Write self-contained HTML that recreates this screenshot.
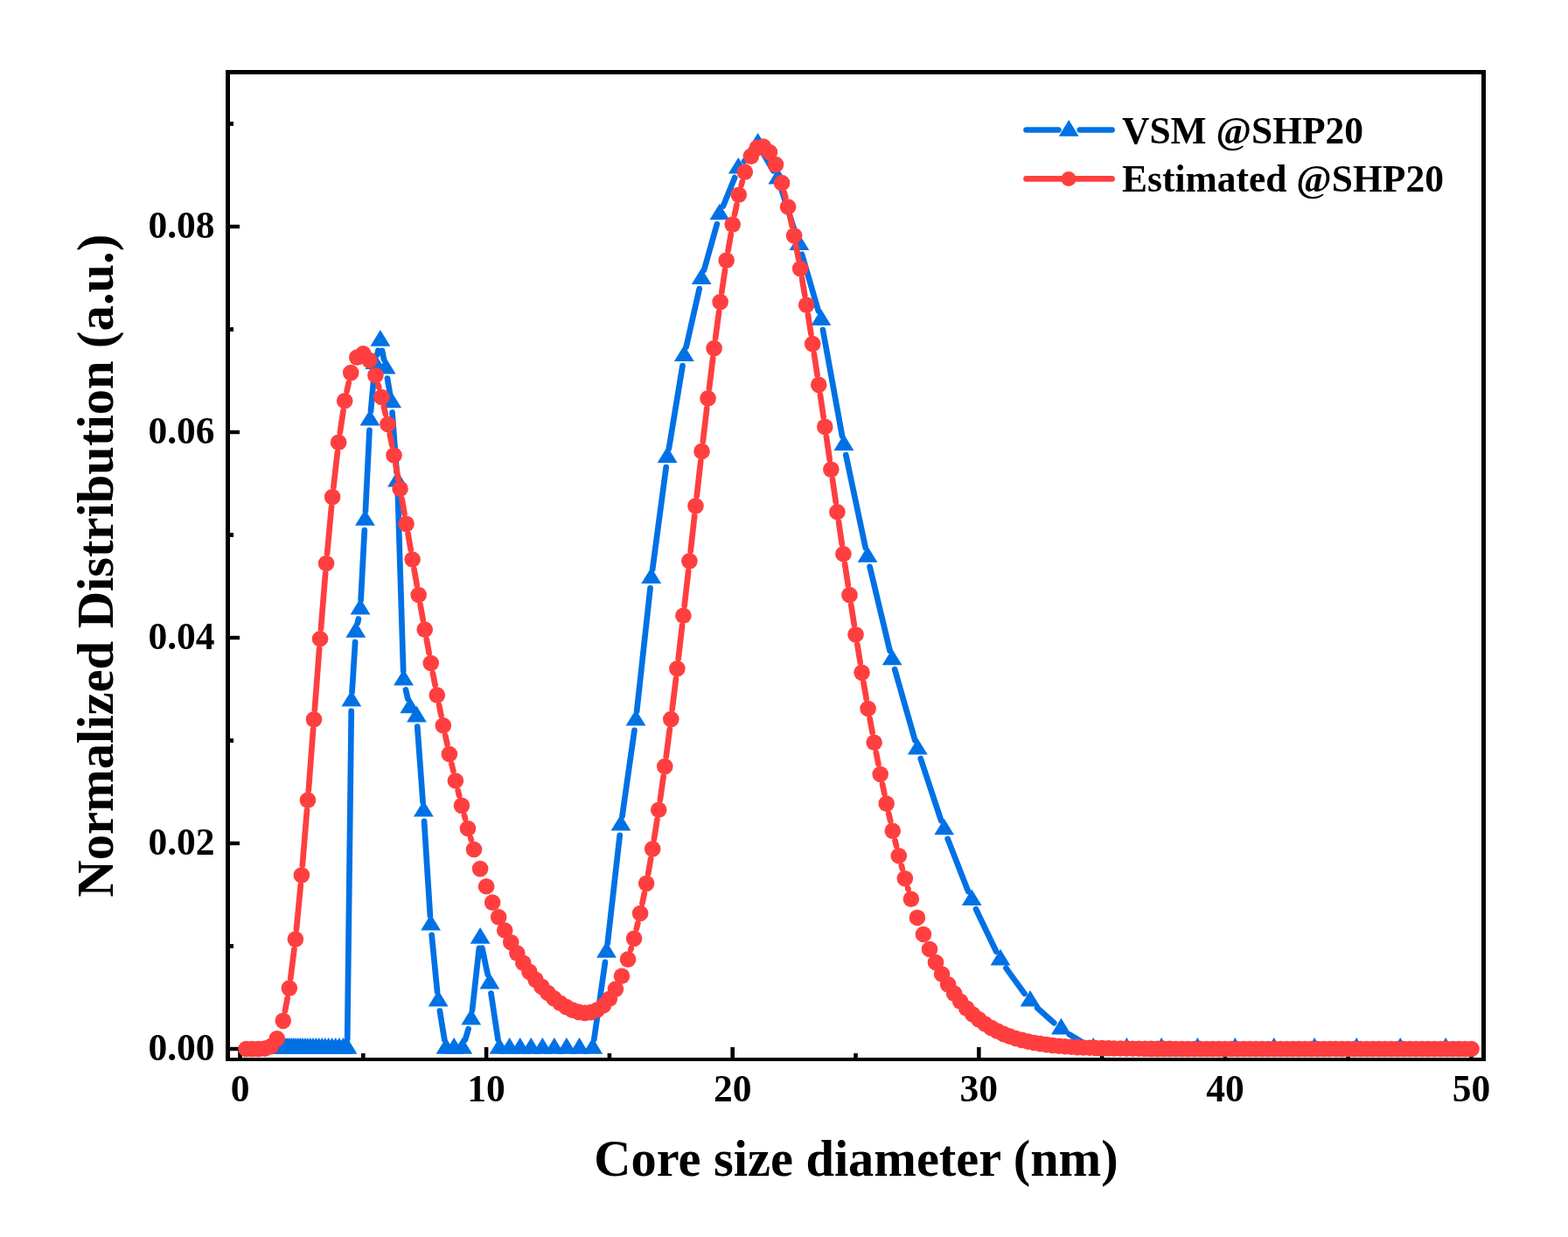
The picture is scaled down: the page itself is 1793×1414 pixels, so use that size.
<!DOCTYPE html><html><head><meta charset="utf-8"><title>Core size distribution</title><style>html,body{margin:0;padding:0;background:#fff;width:1793px;height:1414px;overflow:hidden}svg{display:block}text{font-family:"Liberation Serif","Times New Roman",serif;font-weight:bold;fill:#000}</style></head><body>
<svg width="1793" height="1414" viewBox="0 0 1793 1414">
<rect width="1793" height="1414" fill="#fff"/>
<g fill="#000"><rect x="272.2" y="1197" width="4.6" height="12"/><rect x="553.8" y="1197" width="4.6" height="12"/><rect x="835.4" y="1197" width="4.6" height="12"/><rect x="1117" y="1197" width="4.6" height="12"/><rect x="1398.6" y="1197" width="4.6" height="12"/><rect x="1680.2" y="1197" width="4.6" height="12"/><rect x="413" y="1204" width="4.6" height="5"/><rect x="694.6" y="1204" width="4.6" height="5"/><rect x="976.2" y="1204" width="4.6" height="5"/><rect x="1257.8" y="1204" width="4.6" height="5"/><rect x="1539.4" y="1204" width="4.6" height="5"/><rect x="262" y="1196.8" width="12" height="4.4"/><rect x="262" y="961.8" width="12" height="4.4"/><rect x="262" y="726.8" width="12" height="4.4"/><rect x="262" y="491.8" width="12" height="4.4"/><rect x="262" y="256.8" width="12" height="4.4"/><rect x="262" y="1079.1" width="5" height="4.8"/><rect x="262" y="844.1" width="5" height="4.8"/><rect x="262" y="609.1" width="5" height="4.8"/><rect x="262" y="374.1" width="5" height="4.8"/><rect x="262" y="139.1" width="5" height="4.8"/></g>
<path d="M397.19 1188L401.73 812.9 M402.55 790.92L406.15 733.98 M408.97 712.21L409.9 707.49 M412.61 685.72L416.83 606.08 M417.95 584.11L422.48 491.79 M424 469.84L427.84 427.26 M431.29 405.58L432.41 400.72 M437.01 400.79L439.02 410.91 M442.98 432.55L445.86 449.65 M448.51 471.47L453.64 539.93 M454.81 561.89L461.17 766.71 M463.98 788.42L466.38 798.88 M477.25 830.67L483.56 916.83 M485.05 938.78L491.88 1046.82 M493.65 1068.75L500.04 1133.75 M502.89 1155.56L508.22 1188.14 M531.95 1188.46L535.61 1176.24 M539.98 1154.77L547.89 1083.93 M551.35 1083.77L557.63 1113.93 M561.5 1135.58L569.41 1188.12 M679.3 1188.11L691.97 1099.89 M694.77 1078.07L708.71 954.83 M711.49 933.01L725.45 834.79 M728.19 812.96L743.53 672.34 M746.17 650.5L761.69 534.1 M764.93 512.35L780.48 418.15 M784.7 396.57L799.74 330.03 M805.13 308.71L819.86 256.19 M826.98 235.41L840.15 203.09 M851.16 184.3L859.76 173.5 M872.15 174.41L884.28 195.29 M893.16 215.28L910.56 269.72 M916.98 290.76L935.88 355.64 M940.92 377.02L963.01 498.38 M967.25 519.96L989.74 626.34 M994.58 647.8L1017.56 743.9 M1023.14 765.18L1046.3 846.22 M1052.77 867.24L1076.21 938.16 M1083.67 958.85L1107.2 1019.15 M1115.96 1039.32L1139.21 1087.78 M1150.41 1106.61L1171.58 1135.89 M1186.19 1152.17L1205.24 1169.33 M1222.81 1182.4L1240.78 1193.3 M1261.18 1199L1277.39 1199 M1299.39 1199L1317.1 1199 M1339.1 1199L1358.37 1199 M1380.37 1199L1401.25 1199 M1423.25 1199L1445.81 1199 M1467.81 1199L1492.11 1199 M1514.11 1199L1540.23 1199 M1562.23 1199L1590.23 1199 M1612.23 1199L1642.2 1199" stroke="#0071E5" stroke-width="6.7" stroke-linecap="round" fill="none"/>
<g fill="#0071E5">
<polygon points="310.35,1186.1 298.95,1204.7 321.75,1204.7"/>
<polygon points="311.75,1186.1 300.35,1204.7 323.15,1204.7"/>
<polygon points="313.21,1186.1 301.81,1204.7 324.61,1204.7"/>
<polygon points="314.72,1186.1 303.32,1204.7 326.12,1204.7"/>
<polygon points="316.3,1186.1 304.9,1204.7 327.7,1204.7"/>
<polygon points="317.94,1186.1 306.54,1204.7 329.34,1204.7"/>
<polygon points="319.64,1186.1 308.24,1204.7 331.04,1204.7"/>
<polygon points="321.41,1186.1 310.01,1204.7 332.81,1204.7"/>
<polygon points="323.24,1186.1 311.84,1204.7 334.64,1204.7"/>
<polygon points="325.15,1186.1 313.75,1204.7 336.55,1204.7"/>
<polygon points="327.14,1186.1 315.74,1204.7 338.54,1204.7"/>
<polygon points="329.2,1186.1 317.8,1204.7 340.6,1204.7"/>
<polygon points="331.34,1186.1 319.94,1204.7 342.74,1204.7"/>
<polygon points="333.57,1186.1 322.17,1204.7 344.97,1204.7"/>
<polygon points="335.88,1186.1 324.48,1204.7 347.28,1204.7"/>
<polygon points="338.28,1186.1 326.88,1204.7 349.68,1204.7"/>
<polygon points="340.78,1186.1 329.38,1204.7 352.18,1204.7"/>
<polygon points="343.38,1186.1 331.98,1204.7 354.78,1204.7"/>
<polygon points="346.08,1186.1 334.68,1204.7 357.48,1204.7"/>
<polygon points="348.88,1186.1 337.48,1204.7 360.28,1204.7"/>
<polygon points="351.79,1186.1 340.39,1204.7 363.19,1204.7"/>
<polygon points="354.82,1186.1 343.42,1204.7 366.22,1204.7"/>
<polygon points="357.96,1186.1 346.56,1204.7 369.36,1204.7"/>
<polygon points="361.23,1186.1 349.83,1204.7 372.63,1204.7"/>
<polygon points="364.63,1186.1 353.23,1204.7 376.03,1204.7"/>
<polygon points="368.16,1186.1 356.76,1204.7 379.56,1204.7"/>
<polygon points="371.83,1186.1 360.43,1204.7 383.23,1204.7"/>
<polygon points="375.64,1186.1 364.24,1204.7 387.04,1204.7"/>
<polygon points="379.6,1186.1 368.2,1204.7 391,1204.7"/>
<polygon points="383.72,1186.1 372.32,1204.7 395.12,1204.7"/>
<polygon points="387.99,1186.1 376.59,1204.7 399.39,1204.7"/>
<polygon points="392.44,1186.1 381.04,1204.7 403.84,1204.7"/>
<polygon points="397.06,1186.1 385.66,1204.7 408.46,1204.7"/>
<polygon points="401.86,789 390.46,807.6 413.26,807.6"/>
<polygon points="406.85,710.1 395.45,728.7 418.25,728.7"/>
<polygon points="412.03,683.8 400.63,702.4 423.43,702.4"/>
<polygon points="417.42,582.2 406.02,600.8 428.82,600.8"/>
<polygon points="423.01,467.9 411.61,486.5 434.41,486.5"/>
<polygon points="428.83,403.4 417.43,422 440.23,422"/>
<polygon points="434.88,377.1 423.48,395.7 446.28,395.7"/>
<polygon points="441.16,408.8 429.76,427.4 452.56,427.4"/>
<polygon points="447.68,447.6 436.28,466.2 459.08,466.2"/>
<polygon points="454.47,538 443.07,556.6 465.87,556.6"/>
<polygon points="461.51,764.8 450.11,783.4 472.91,783.4"/>
<polygon points="468.84,796.7 457.44,815.3 480.24,815.3"/>
<polygon points="476.45,806.8 465.05,825.4 487.85,825.4"/>
<polygon points="484.36,914.9 472.96,933.5 495.76,933.5"/>
<polygon points="492.58,1044.9 481.18,1063.5 503.98,1063.5"/>
<polygon points="501.12,1131.8 489.72,1150.4 512.52,1150.4"/>
<polygon points="510,1186.1 498.6,1204.7 521.4,1204.7"/>
<polygon points="519.22,1186.1 507.82,1204.7 530.62,1204.7"/>
<polygon points="528.8,1186.1 517.4,1204.7 540.2,1204.7"/>
<polygon points="538.76,1152.8 527.36,1171.4 550.16,1171.4"/>
<polygon points="549.11,1060.1 537.71,1078.7 560.51,1078.7"/>
<polygon points="559.87,1111.8 548.47,1130.4 571.27,1130.4"/>
<polygon points="571.04,1186.1 559.64,1204.7 582.44,1204.7"/>
<polygon points="582.66,1186.1 571.26,1204.7 594.06,1204.7"/>
<polygon points="594.73,1186.1 583.33,1204.7 606.13,1204.7"/>
<polygon points="607.27,1186.1 595.87,1204.7 618.67,1204.7"/>
<polygon points="620.3,1186.1 608.9,1204.7 631.7,1204.7"/>
<polygon points="633.84,1186.1 622.44,1204.7 645.24,1204.7"/>
<polygon points="647.92,1186.1 636.52,1204.7 659.32,1204.7"/>
<polygon points="662.54,1186.1 651.14,1204.7 673.94,1204.7"/>
<polygon points="677.74,1186.1 666.34,1204.7 689.14,1204.7"/>
<polygon points="693.53,1076.1 682.13,1094.7 704.93,1094.7"/>
<polygon points="709.95,931 698.55,949.6 721.35,949.6"/>
<polygon points="727,811 715.6,829.6 738.4,829.6"/>
<polygon points="744.72,648.5 733.32,667.1 756.12,667.1"/>
<polygon points="763.14,510.3 751.74,528.9 774.54,528.9"/>
<polygon points="782.28,394.4 770.88,413 793.68,413"/>
<polygon points="802.16,306.4 790.76,325 813.56,325"/>
<polygon points="822.83,232.7 811.43,251.3 834.23,251.3"/>
<polygon points="844.3,180 832.9,198.6 855.7,198.6"/>
<polygon points="866.62,152 855.22,170.6 878.02,170.6"/>
<polygon points="889.81,191.9 878.41,210.5 901.21,210.5"/>
<polygon points="913.91,267.3 902.51,285.9 925.31,285.9"/>
<polygon points="938.95,353.3 927.55,371.9 950.35,371.9"/>
<polygon points="964.97,496.3 953.57,514.9 976.37,514.9"/>
<polygon points="992.02,624.2 980.62,642.8 1003.42,642.8"/>
<polygon points="1020.12,741.7 1008.72,760.3 1031.52,760.3"/>
<polygon points="1049.32,843.9 1037.92,862.5 1060.72,862.5"/>
<polygon points="1079.67,935.7 1068.27,954.3 1091.07,954.3"/>
<polygon points="1111.2,1016.5 1099.8,1035.1 1122.6,1035.1"/>
<polygon points="1143.97,1084.8 1132.57,1103.4 1155.37,1103.4"/>
<polygon points="1178.02,1131.9 1166.62,1150.5 1189.42,1150.5"/>
<polygon points="1213.41,1163.8 1202.01,1182.4 1224.81,1182.4"/>
<polygon points="1250.18,1186.1 1238.78,1204.7 1261.58,1204.7"/>
<polygon points="1288.39,1186.1 1276.99,1204.7 1299.79,1204.7"/>
<polygon points="1328.1,1186.1 1316.7,1204.7 1339.5,1204.7"/>
<polygon points="1369.37,1186.1 1357.97,1204.7 1380.77,1204.7"/>
<polygon points="1412.25,1186.1 1400.85,1204.7 1423.65,1204.7"/>
<polygon points="1456.81,1186.1 1445.41,1204.7 1468.21,1204.7"/>
<polygon points="1503.11,1186.1 1491.71,1204.7 1514.51,1204.7"/>
<polygon points="1551.23,1186.1 1539.83,1204.7 1562.63,1204.7"/>
<polygon points="1601.23,1186.1 1589.83,1204.7 1612.63,1204.7"/>
<polygon points="1653.2,1186.1 1641.8,1204.7 1664.6,1204.7"/>
</g>
<path d="M325.91 1155.54L328.69 1140.87 M332.25 1118.16L336.43 1085 M338.96 1062.14L343.8 1011.88 M345.84 988.98L351 926.11 M352.82 903.18L358.1 833.87 M359.86 810.93L365.14 741.7 M366.96 718.77L372.12 655.42 M374.12 632.51L379.04 579.56 M381.39 556.68L385.85 517.12 M388.83 494.32L392.49 469.63 M396.64 447.02L398.76 437.32 M432.49 440.02L433.31 442.9 M438.96 465.18L440.92 473.8 M445.7 496.3L448.26 509.17 M452.58 531.76L455.46 547.48 M459.53 570.12L462.59 587.5 M466.54 610.16L469.66 628.17 M473.59 650.83L476.69 668.67 M480.67 691.32L483.69 708.34 M487.78 730.97L490.66 746.69 M494.91 769.29L497.61 783.36 M502.07 805.92L504.53 818.1 M509.24 840.62L511.44 850.77 M516.45 873.22L518.31 881.29 M523.68 903.66L525.16 909.65 M530.93 931.91L531.99 935.86 M538.21 958L538.79 960 M721.28 1085.6L721.8 1083.84 M727.79 1061.64L729.37 1055.14 M734.42 1032.7L736.82 1021.12 M741.16 998.54L744.16 981.73 M747.97 959.05L751.43 937.1 M754.84 914.35L758.64 887.52 M761.75 864.73L765.81 833.5 M768.69 810.69L772.95 775.75 M775.67 752.91L780.05 715.16 M782.67 692.31L787.13 652.76 M789.7 629.9L794.18 589.73 M796.75 566.88L801.21 527.32 M803.83 504.47L808.21 466.82 M810.94 443.98L815.18 409.48 M818.1 386.67L822.1 356.51 M825.31 333.74L828.97 309 M832.6 286.29L835.76 267.9 M840.04 245.31L842.4 233.96 M847.73 211.59L848.79 207.7 M896.88 220.26L898.2 225.38 M903.46 247.76L905.7 258.21 M910.21 280.76L913.03 295.81 M917.06 318.45L920.26 337.29 M923.98 359.99L927.42 381.8 M930.93 404.53L934.55 428.47 M937.93 451.22L941.63 476.53 M944.95 499.29L948.69 525.22 M951.99 547.98L955.73 573.87 M959.05 596.63L962.75 621.89 M966.13 644.64L969.75 668.77 M973.23 691.5L976.73 714.07 M980.34 736.78L983.7 757.44 M987.48 780.13L990.64 798.63 M994.63 821.28L997.57 837.43 M1001.81 860.03L1004.47 873.72 M1009.01 896.26L1011.35 907.42 M1016.24 929.89L1018.2 938.52 M1023.5 960.9L1025.02 967.05 M1030.79 989.32L1031.81 993.08 M1038.12 1015.2L1038.56 1016.7" stroke="#FF3F3F" stroke-width="6.7" stroke-linecap="round" fill="none"/>
<g fill="#FF3F3F">
<circle cx="281.54" cy="1199" r="9.3"/>
<circle cx="288.58" cy="1199" r="9.3"/>
<circle cx="295.62" cy="1198.98" r="9.3"/>
<circle cx="302.66" cy="1198.59" r="9.3"/>
<circle cx="309.7" cy="1196.1" r="9.3"/>
<circle cx="316.74" cy="1187.4" r="9.3"/>
<circle cx="323.78" cy="1166.84" r="9.3"/>
<circle cx="330.82" cy="1129.57" r="9.3"/>
<circle cx="337.86" cy="1073.59" r="9.3"/>
<circle cx="344.9" cy="1000.44" r="9.3"/>
<circle cx="351.94" cy="914.64" r="9.3"/>
<circle cx="358.98" cy="822.4" r="9.3"/>
<circle cx="366.02" cy="730.23" r="9.3"/>
<circle cx="373.06" cy="643.96" r="9.3"/>
<circle cx="380.1" cy="568.11" r="9.3"/>
<circle cx="387.14" cy="505.69" r="9.3"/>
<circle cx="394.18" cy="458.25" r="9.3"/>
<circle cx="401.22" cy="426.09" r="9.3"/>
<circle cx="408.26" cy="408.55" r="9.3"/>
<circle cx="415.3" cy="404.35" r="9.3"/>
<circle cx="422.34" cy="411.77" r="9.3"/>
<circle cx="429.38" cy="428.95" r="9.3"/>
<circle cx="436.42" cy="453.97" r="9.3"/>
<circle cx="443.46" cy="485.02" r="9.3"/>
<circle cx="450.5" cy="520.44" r="9.3"/>
<circle cx="457.54" cy="558.79" r="9.3"/>
<circle cx="464.58" cy="598.82" r="9.3"/>
<circle cx="471.62" cy="639.5" r="9.3"/>
<circle cx="478.66" cy="680" r="9.3"/>
<circle cx="485.7" cy="719.66" r="9.3"/>
<circle cx="492.74" cy="758" r="9.3"/>
<circle cx="499.78" cy="794.65" r="9.3"/>
<circle cx="506.82" cy="829.37" r="9.3"/>
<circle cx="513.86" cy="862.02" r="9.3"/>
<circle cx="520.9" cy="892.5" r="9.3"/>
<circle cx="527.94" cy="920.81" r="9.3"/>
<circle cx="534.98" cy="946.96" r="9.3"/>
<circle cx="542.02" cy="971.04" r="9.3"/>
<circle cx="549.06" cy="993.1" r="9.3"/>
<circle cx="556.1" cy="1013.27" r="9.3"/>
<circle cx="563.14" cy="1031.64" r="9.3"/>
<circle cx="570.18" cy="1048.35" r="9.3"/>
<circle cx="577.22" cy="1063.49" r="9.3"/>
<circle cx="584.26" cy="1077.2" r="9.3"/>
<circle cx="591.3" cy="1089.59" r="9.3"/>
<circle cx="598.34" cy="1100.76" r="9.3"/>
<circle cx="605.38" cy="1110.81" r="9.3"/>
<circle cx="612.42" cy="1119.83" r="9.3"/>
<circle cx="619.46" cy="1127.89" r="9.3"/>
<circle cx="626.5" cy="1135.04" r="9.3"/>
<circle cx="633.54" cy="1141.3" r="9.3"/>
<circle cx="640.58" cy="1146.69" r="9.3"/>
<circle cx="647.62" cy="1151.15" r="9.3"/>
<circle cx="654.66" cy="1154.6" r="9.3"/>
<circle cx="661.7" cy="1156.89" r="9.3"/>
<circle cx="668.74" cy="1157.83" r="9.3"/>
<circle cx="675.78" cy="1157.15" r="9.3"/>
<circle cx="682.82" cy="1154.51" r="9.3"/>
<circle cx="689.86" cy="1149.51" r="9.3"/>
<circle cx="696.9" cy="1141.71" r="9.3"/>
<circle cx="703.94" cy="1130.62" r="9.3"/>
<circle cx="710.98" cy="1115.76" r="9.3"/>
<circle cx="718.02" cy="1096.63" r="9.3"/>
<circle cx="725.06" cy="1072.82" r="9.3"/>
<circle cx="732.1" cy="1043.97" r="9.3"/>
<circle cx="739.14" cy="1009.86" r="9.3"/>
<circle cx="746.18" cy="970.41" r="9.3"/>
<circle cx="753.22" cy="925.74" r="9.3"/>
<circle cx="760.26" cy="876.14" r="9.3"/>
<circle cx="767.3" cy="822.1" r="9.3"/>
<circle cx="774.34" cy="764.34" r="9.3"/>
<circle cx="781.38" cy="703.73" r="9.3"/>
<circle cx="788.42" cy="641.33" r="9.3"/>
<circle cx="795.46" cy="578.3" r="9.3"/>
<circle cx="802.5" cy="515.9" r="9.3"/>
<circle cx="809.54" cy="455.4" r="9.3"/>
<circle cx="816.58" cy="398.07" r="9.3"/>
<circle cx="823.62" cy="345.11" r="9.3"/>
<circle cx="830.66" cy="297.63" r="9.3"/>
<circle cx="837.7" cy="256.57" r="9.3"/>
<circle cx="844.74" cy="222.7" r="9.3"/>
<circle cx="851.78" cy="196.59" r="9.3"/>
<circle cx="858.82" cy="178.62" r="9.3"/>
<circle cx="865.86" cy="168.93" r="9.3"/>
<circle cx="872.9" cy="167.46" r="9.3"/>
<circle cx="879.94" cy="173.98" r="9.3"/>
<circle cx="886.98" cy="188.05" r="9.3"/>
<circle cx="894.02" cy="209.13" r="9.3"/>
<circle cx="901.06" cy="236.52" r="9.3"/>
<circle cx="908.1" cy="269.45" r="9.3"/>
<circle cx="915.14" cy="307.11" r="9.3"/>
<circle cx="922.18" cy="348.63" r="9.3"/>
<circle cx="929.22" cy="393.15" r="9.3"/>
<circle cx="936.26" cy="439.85" r="9.3"/>
<circle cx="943.3" cy="487.91" r="9.3"/>
<circle cx="950.34" cy="536.6" r="9.3"/>
<circle cx="957.38" cy="585.25" r="9.3"/>
<circle cx="964.42" cy="633.27" r="9.3"/>
<circle cx="971.46" cy="680.14" r="9.3"/>
<circle cx="978.5" cy="725.43" r="9.3"/>
<circle cx="985.54" cy="768.8" r="9.3"/>
<circle cx="992.58" cy="809.97" r="9.3"/>
<circle cx="999.62" cy="848.75" r="9.3"/>
<circle cx="1006.66" cy="885" r="9.3"/>
<circle cx="1013.7" cy="918.67" r="9.3"/>
<circle cx="1020.74" cy="949.74" r="9.3"/>
<circle cx="1027.78" cy="978.22" r="9.3"/>
<circle cx="1034.82" cy="1004.18" r="9.3"/>
<circle cx="1041.86" cy="1027.72" r="9.3"/>
<circle cx="1048.9" cy="1048.94" r="9.3"/>
<circle cx="1055.94" cy="1067.99" r="9.3"/>
<circle cx="1062.98" cy="1085" r="9.3"/>
<circle cx="1070.02" cy="1100.13" r="9.3"/>
<circle cx="1077.06" cy="1113.51" r="9.3"/>
<circle cx="1084.1" cy="1125.31" r="9.3"/>
<circle cx="1091.14" cy="1135.67" r="9.3"/>
<circle cx="1098.18" cy="1144.72" r="9.3"/>
<circle cx="1105.22" cy="1152.61" r="9.3"/>
<circle cx="1112.26" cy="1159.47" r="9.3"/>
<circle cx="1119.3" cy="1165.39" r="9.3"/>
<circle cx="1126.34" cy="1170.5" r="9.3"/>
<circle cx="1133.38" cy="1174.9" r="9.3"/>
<circle cx="1140.42" cy="1178.66" r="9.3"/>
<circle cx="1147.46" cy="1181.88" r="9.3"/>
<circle cx="1154.5" cy="1184.62" r="9.3"/>
<circle cx="1161.54" cy="1186.95" r="9.3"/>
<circle cx="1168.58" cy="1188.92" r="9.3"/>
<circle cx="1175.62" cy="1190.58" r="9.3"/>
<circle cx="1182.66" cy="1191.99" r="9.3"/>
<circle cx="1189.7" cy="1193.17" r="9.3"/>
<circle cx="1196.74" cy="1194.16" r="9.3"/>
<circle cx="1203.78" cy="1194.99" r="9.3"/>
<circle cx="1210.82" cy="1195.69" r="9.3"/>
<circle cx="1217.86" cy="1196.26" r="9.3"/>
<circle cx="1224.9" cy="1196.75" r="9.3"/>
<circle cx="1231.94" cy="1197.14" r="9.3"/>
<circle cx="1238.98" cy="1197.48" r="9.3"/>
<circle cx="1246.02" cy="1197.75" r="9.3"/>
<circle cx="1253.06" cy="1197.98" r="9.3"/>
<circle cx="1260.1" cy="1198.16" r="9.3"/>
<circle cx="1267.14" cy="1198.31" r="9.3"/>
<circle cx="1274.18" cy="1198.44" r="9.3"/>
<circle cx="1281.22" cy="1198.54" r="9.3"/>
<circle cx="1288.26" cy="1198.63" r="9.3"/>
<circle cx="1295.3" cy="1198.7" r="9.3"/>
<circle cx="1302.34" cy="1198.75" r="9.3"/>
<circle cx="1309.38" cy="1198.8" r="9.3"/>
<circle cx="1316.42" cy="1198.84" r="9.3"/>
<circle cx="1323.46" cy="1198.87" r="9.3"/>
<circle cx="1330.5" cy="1198.89" r="9.3"/>
<circle cx="1337.54" cy="1198.91" r="9.3"/>
<circle cx="1344.58" cy="1198.93" r="9.3"/>
<circle cx="1351.62" cy="1198.94" r="9.3"/>
<circle cx="1358.66" cy="1198.95" r="9.3"/>
<circle cx="1365.7" cy="1198.96" r="9.3"/>
<circle cx="1372.74" cy="1198.97" r="9.3"/>
<circle cx="1379.78" cy="1198.98" r="9.3"/>
<circle cx="1386.82" cy="1198.98" r="9.3"/>
<circle cx="1393.86" cy="1198.98" r="9.3"/>
<circle cx="1400.9" cy="1198.99" r="9.3"/>
<circle cx="1407.94" cy="1198.99" r="9.3"/>
<circle cx="1414.98" cy="1198.99" r="9.3"/>
<circle cx="1422.02" cy="1198.99" r="9.3"/>
<circle cx="1429.06" cy="1198.99" r="9.3"/>
<circle cx="1436.1" cy="1198.99" r="9.3"/>
<circle cx="1443.14" cy="1199" r="9.3"/>
<circle cx="1450.18" cy="1199" r="9.3"/>
<circle cx="1457.22" cy="1199" r="9.3"/>
<circle cx="1464.26" cy="1199" r="9.3"/>
<circle cx="1471.3" cy="1199" r="9.3"/>
<circle cx="1478.34" cy="1199" r="9.3"/>
<circle cx="1485.38" cy="1199" r="9.3"/>
<circle cx="1492.42" cy="1199" r="9.3"/>
<circle cx="1499.46" cy="1199" r="9.3"/>
<circle cx="1506.5" cy="1199" r="9.3"/>
<circle cx="1513.54" cy="1199" r="9.3"/>
<circle cx="1520.58" cy="1199" r="9.3"/>
<circle cx="1527.62" cy="1199" r="9.3"/>
<circle cx="1534.66" cy="1199" r="9.3"/>
<circle cx="1541.7" cy="1199" r="9.3"/>
<circle cx="1548.74" cy="1199" r="9.3"/>
<circle cx="1555.78" cy="1199" r="9.3"/>
<circle cx="1562.82" cy="1199" r="9.3"/>
<circle cx="1569.86" cy="1199" r="9.3"/>
<circle cx="1576.9" cy="1199" r="9.3"/>
<circle cx="1583.94" cy="1199" r="9.3"/>
<circle cx="1590.98" cy="1199" r="9.3"/>
<circle cx="1598.02" cy="1199" r="9.3"/>
<circle cx="1605.06" cy="1199" r="9.3"/>
<circle cx="1612.1" cy="1199" r="9.3"/>
<circle cx="1619.14" cy="1199" r="9.3"/>
<circle cx="1626.18" cy="1199" r="9.3"/>
<circle cx="1633.22" cy="1199" r="9.3"/>
<circle cx="1640.26" cy="1199" r="9.3"/>
<circle cx="1647.3" cy="1199" r="9.3"/>
<circle cx="1654.34" cy="1199" r="9.3"/>
<circle cx="1661.38" cy="1199" r="9.3"/>
<circle cx="1668.42" cy="1199" r="9.3"/>
<circle cx="1675.46" cy="1199" r="9.3"/>
<circle cx="1682.5" cy="1199" r="9.3"/>
</g>
<g fill="#000"><rect x="258" y="80" width="5" height="1133"/><rect x="258" y="80" width="1441" height="5"/><rect x="1694" y="80" width="5" height="1133"/><rect x="258" y="1209" width="1441" height="4"/></g>
<text x="245.5" y="1212" font-size="43.5" text-anchor="end">0.00</text>
<text x="245.5" y="977" font-size="43.5" text-anchor="end">0.02</text>
<text x="245.5" y="742" font-size="43.5" text-anchor="end">0.04</text>
<text x="245.5" y="507" font-size="43.5" text-anchor="end">0.06</text>
<text x="245.5" y="272" font-size="43.5" text-anchor="end">0.08</text>
<text x="274.5" y="1259" font-size="43.5" text-anchor="middle">0</text>
<text x="556.1" y="1259" font-size="43.5" text-anchor="middle">10</text>
<text x="837.7" y="1259" font-size="43.5" text-anchor="middle">20</text>
<text x="1119.3" y="1259" font-size="43.5" text-anchor="middle">30</text>
<text x="1400.9" y="1259" font-size="43.5" text-anchor="middle">40</text>
<text x="1682.5" y="1259" font-size="43.5" text-anchor="middle">50</text>
<text x="979" y="1343.6" font-size="58.4" text-anchor="middle">Core size diameter (nm)</text>
<text transform="translate(128.6 646.7) rotate(-90)" x="0" y="0" font-size="58.55" text-anchor="middle">Normalized Distribution (a.u.)</text>
<path d="M1173.5 148.5H1210.4M1234.7 148.5H1271.6" stroke="#0071E5" stroke-width="6.6" stroke-linecap="round"/>
<polygon points="1222.2,137.1 1210.8,155.7 1233.6,155.7" fill="#0071E5"/>
<path d="M1173.5 204.4H1271.6" stroke="#FF3F3F" stroke-width="6.6" stroke-linecap="round"/>
<circle cx="1222" cy="204.5" r="8.5" fill="#FF3F3F"/>
<text x="1283" y="163.7" font-size="43.5">VSM @SHP20</text>
<text x="1283" y="218.8" font-size="43.5">Estimated @SHP20</text>
</svg></body></html>
